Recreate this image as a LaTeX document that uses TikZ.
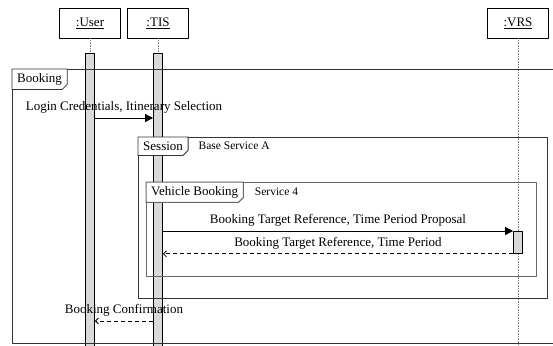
\documentclass[tikz,border=0pt]{standalone}
\usepackage{fontspec}
\setmainfont{Liberation Serif}
\usetikzlibrary{arrows.meta}
\tikzset{
	head/.style={draw,line width=0.8pt,fill=white,minimum width=61pt,minimum height=30pt,inner sep=0pt},
	bar/.style={draw,line width=0.8pt,fill=gray!30,minimum width=9pt,inner sep=0pt,anchor=north},
	frag/.style={draw=black!80,line width=0.8pt},
	fragtab/.style={fill=white,inner xsep=5pt,inner ysep=0pt,minimum height=20pt,anchor=north west},
	guard/.style={font=\fontsize{11.5}{13}\selectfont,anchor=west},
	call/.style={line width=0.8pt,-{Triangle[length=8pt,width=8pt]}},
	reply/.style={line width=0.8pt,dash pattern=on 4pt off 3pt,-{Straight Barb[length=3pt,width=6pt]}},
	msg/.style={above,inner xsep=0pt,inner ysep=4pt}
}
\newcommand\tabline[2][]{%
	\draw[frag,#1] (#2.south west) -- (#2.north west) -- (#2.north east)
		-- ([yshift=5pt]#2.south east) -- ([xshift=-5pt]#2.south east) -- cycle;}
\begin{document}
\begin{tikzpicture}[x=1pt,y=-1pt,line join=round,font=\fontsize{13}{15}\selectfont]
	\useasboundingbox (0,0) rectangle (553,345);
	\clip (0,0) rectangle (553,345);
	% heads and lifelines
	\node[head] (user) at (90,23) {\underline{:User}};
	\node[head] (tis) at (158,23) {\underline{:TIS}};
	\node[head] (vrs) at (518,23) {\underline{:VRS}};
	\foreach \l in {user,tis,vrs}
		\draw[densely dotted,gray,line width=0.6pt] (\l.south) -- ++(0,320);
	\node[bar,minimum height=300pt] (userbar) at (90,53) {};
	\node[bar,minimum height=300pt] (tisbar) at (158,53) {};
	\node[bar,minimum height=22pt] (vrsbar) at (518,231) {};
	% fragments
	\draw[frag] (12,69) rectangle (570,343);
	\node[fragtab] (booking) at (12,69) {Booking};
	\tabline{booking}
	\draw[frag] (138,137) rectangle (547,298);
	\node[fragtab,minimum height=18pt] (session) at (138,137) {Session};
	\tabline{session}
	\node[guard] (sessionguard) at ([xshift=7pt]session.east) {Base Service A};
	\draw[frag,draw=gray!80!black,line width=1pt] (146,182) rectangle (536,276);
	\node[fragtab] (vehicle) at (146,182) {Vehicle Booking};
	\tabline[draw=gray!80!black,line width=1pt]{vehicle}
	\node[guard] (vehicleguard) at ([xshift=8pt]vehicle.east) {Service 4};
	% messages
	\draw[call] (userbar.east |- 0,118) -- (tisbar.west |- 0,118)
		node[midway,msg] {Login Credentials, Itinerary Selection};
	\draw[call] (tisbar.east |- vrsbar.north) -- (vrsbar.north west)
		node[midway,msg] {Booking Target Reference, Time Period Proposal};
	\draw[reply] (vrsbar.south west) -- (tisbar.east |- vrsbar.south)
		node[midway,msg] {Booking Target Reference, Time Period};
	\draw[reply] (tisbar.west |- 0,321) -- (userbar.east |- 0,321)
		node[midway,msg] {Booking Confirmation};
\end{tikzpicture}
\end{document}
